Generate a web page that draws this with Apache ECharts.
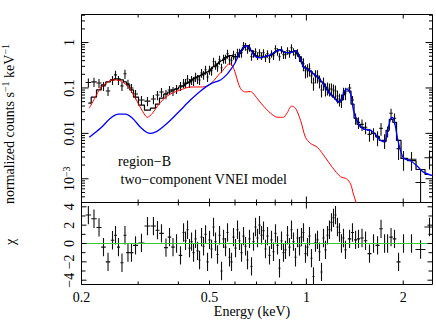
<!DOCTYPE html>
<html><head><meta charset="utf-8">
<script src="https://cdn.jsdelivr.net/npm/echarts@6/dist/echarts.min.js"></script>
<style>html,body{margin:0;padding:0;background:#fff}#c{width:436px;height:321px}</style>
</head><body><div id="c"></div>
<script>
// ---------- data ----------
const energy = [
0.2101,0.2187,0.2267,0.2341,0.2418,0.2497,0.2551,0.2606,0.2672,0.2730,0.2789,0.2860,0.2944,0.3072,0.3207,0.3347,0.3445,0.3545,0.3661,0.3755,0.3850,0.3948,0.4062,
0.4151,0.4211,0.4271,0.4333,0.4396,0.4459,0.4523,0.4589,0.4655,0.4722,
0.4790,0.4859,0.4929,0.5000,0.5072,0.5145,0.5219,0.5294,0.5371,0.5448,
0.5527,0.5606,0.5687,0.5769,0.5852,0.5936,0.6022,0.6109,0.6197,0.6286,
0.6377,0.6469,0.6562,0.6656,0.6752,0.6850,0.6948,0.7048,0.7150,0.7253,
0.7357,0.7463,0.7571,0.7680,0.7791,0.7903,0.8017,0.8133,0.8250,0.8369,
0.8489,0.8612,0.8736,0.8862,0.8989,0.9119,0.9250,0.9384,0.9519,0.9656,
0.9795,0.9936,1.0080,1.0225,1.0372,1.0522,1.0674,1.0827,1.0984,1.1142,
1.1303,1.1466,1.1631,1.1798,1.1968,1.2141,1.2316,1.2493,1.2673,1.2856,
1.3041,1.3229,
1.362,1.391,1.422,1.452,1.489,1.527,1.571,1.617,1.664,1.706,1.750,1.788,1.833,1.879,1.934,2.004,2.122,2.264,2.414];
const halfWidth = [
0.0041,0.0043,0.0041,0.0038,0.0039,0.0031,0.0027,0.0028,0.0029,0.0029,0.0035,0.0041,0.0053,0.0066,0.0069,0.0060,0.0049,0.0057,0.0052,0.0047,0.0048,0.0050,0.0051,
0.0030,0.0030,0.0031,0.0031,0.0031,0.0032,0.0032,0.0033,0.0033,0.0034,
0.0034,0.0035,0.0035,0.0036,0.0036,0.0037,0.0037,0.0038,0.0038,0.0039,
0.0040,0.0040,0.0041,0.0041,0.0042,0.0042,0.0043,0.0044,0.0044,0.0045,
0.0046,0.0046,0.0047,0.0048,0.0048,0.0049,0.0050,0.0050,0.0051,0.0052,
0.0053,0.0053,0.0054,0.0055,0.0056,0.0057,0.0057,0.0058,0.0059,0.0060,
0.0061,0.0062,0.0063,0.0063,0.0064,0.0065,0.0066,0.0067,0.0068,0.0069,
0.0070,0.0071,0.0072,0.0073,0.0074,0.0075,0.0076,0.0078,0.0079,0.0080,
0.0081,0.0082,0.0083,0.0084,0.0086,0.0087,0.0088,0.0089,0.0091,0.0092,
0.0093,0.0095,
0.017,0.0149,0.0153,0.0156,0.0187,0.0191,0.0225,0.0231,0.0238,0.0214,0.0219,0.0192,0.0230,0.0235,0.0277,0.0432,0.0763,0.0814,0.0868];
const rate = [
0.132,0.136,0.129,0.111,0.0858,0.150,0.194,0.150,0.111,0.205,0.123,0.100,0.0736,0.0541,0.0514,0.0570,0.0699,0.0815,0.0736,0.0903,0.0858,0.095,0.111,
0.129,0.129,0.158,0.129,0.150,0.143,0.175,0.158,0.150,0.215,
0.194,0.251,0.175,0.251,0.239,0.378,0.324,0.293,0.419,0.278,
0.441,0.441,0.570,0.419,0.398,0.541,0.464,0.599,0.599,0.599,
0.858,0.815,0.699,0.774,0.489,0.570,0.631,0.514,0.599,0.514,
0.599,0.464,0.570,0.441,0.570,0.514,0.736,0.631,0.489,0.699,
0.541,0.541,0.664,0.570,0.774,0.631,0.541,0.599,0.464,0.419,
0.341,0.239,0.251,0.264,0.185,0.129,0.185,0.185,0.143,0.0903,
0.129,0.095,0.100,0.095,0.095,0.0903,0.0858,0.0664,0.0570,0.0541,
0.0774,0.0774,
0.100,0.0541,0.0215,0.0175,0.0158,0.0136,0.0095,0.0100,0.0082,0.0129,0.0070,0.0111,0.0278,0.0215,0.0046,0.0028,0.0027,0.00083,0.0029];
const rateErr = [
0.030,0.031,0.029,0.025,0.019,0.034,0.044,0.034,0.025,0.047,0.028,0.023,0.017,0.012,0.012,0.013,0.016,0.018,0.017,0.020,0.019,0.021,0.025,
0.029,0.029,0.035,0.029,0.034,0.032,0.040,0.035,0.034,0.048,
0.043,0.056,0.040,0.056,0.053,0.085,0.072,0.066,0.094,0.062,
0.099,0.099,0.128,0.094,0.090,0.122,0.104,0.134,0.134,0.134,
0.165,0.157,0.134,0.149,0.094,0.109,0.122,0.099,0.115,0.099,
0.115,0.090,0.109,0.085,0.109,0.099,0.141,0.122,0.094,0.134,
0.104,0.104,0.128,0.109,0.149,0.122,0.104,0.115,0.090,0.080,
0.109,0.077,0.080,0.085,0.059,0.042,0.059,0.059,0.046,0.029,
0.042,0.030,0.032,0.030,0.030,0.029,0.027,0.021,0.018,0.018,
0.024,0.024,
0.023,0.012,0.006,0.005,0.0045,0.004,0.003,0.003,0.003,0.004,0.0025,0.003,0.007,0.006,0.002,0.0013,0.0012,0.0008,0.0013];
const model = [
0.0464,0.0631,0.0903,0.117,0.136,0.150,0.158,0.158,0.150,0.136,0.117,0.0903,0.0631,0.0419,0.0324,0.0359,0.0441,0.0599,0.0736,0.0815,0.0903,0.095,0.105,
0.111,0.123,0.129,0.136,0.150,0.158,0.167,0.175,0.185,0.194,
0.205,0.215,0.227,0.239,0.264,0.293,0.308,0.341,0.378,0.398,
0.419,0.464,0.489,0.514,0.514,0.489,0.489,0.489,0.570,0.664,
0.774,0.858,0.858,0.736,0.664,0.570,0.514,0.489,0.464,0.464,
0.489,0.489,0.514,0.514,0.541,0.570,0.631,0.664,0.699,0.664,
0.631,0.599,0.599,0.599,0.631,0.631,0.664,0.570,0.489,0.378,
0.293,0.278,0.264,0.239,0.227,0.205,0.185,0.175,0.158,0.136,
0.123,0.105,0.0903,0.0774,0.0699,0.0631,0.0570,0.0514,0.0489,0.0541,
0.0699,0.0858,
0.0858,0.0441,0.0215,0.0158,0.0136,0.0123,0.0117,0.0100,0.0086,0.0070,0.0066,0.0117,0.0204,0.0175,0.0070,0.0028,0.0025,0.0016,0.00124];
const chi = [
3.1,2.7,1.75,-0.4,-2.0,0.35,0.9,-0.4,-2.1,0.9,-1.0,-1.0,-0.2,0.06,1.9,1.9,1.45,1.1,-0.45,0.7,-0.4,0.0,-1.3,
1.2,0.3,1.5,-0.5,0.2,-1.0,0.5,-0.8,-1.8,0.7,
-0.3,1.0,-2.0,0.4,-0.6,1.8,0.2,-1.2,0.9,-3.0,
0.5,-0.4,1.2,-1.5,-2.0,0.7,-0.5,1.5,0.3,-1.0,
0.8,-0.3,-1.8,0.5,-2.5,0.2,1.8,0.6,2.0,0.9,
1.4,-0.6,0.8,-1.3,0.4,-0.9,1.1,-0.2,-2.7,0.3,
-1.0,-0.7,0.9,-0.4,1.5,0.2,-1.5,0.6,-0.3,0.7,
1.2,-1.1,-0.4,0.8,-1.6,-3.6,0.1,0.4,-0.9,-3.1,
0.6,-0.7,0.9,1.5,2.3,2.8,3.1,1.8,1.2,0.0,
0.6,-0.7,
0.5,1.2,0.4,0.5,0.6,0.3,-1.1,0.0,-0.2,1.6,0.0,0.0,0.7,0.5,-2.0,0.0,0.0,-0.65,1.8];

// soft (red) component
const redE = [0.2115,0.221,0.229,0.2393,0.2497,0.2588,0.268,0.278,0.288,0.2986,0.3095,0.3207,0.3324,0.3445,0.3597,0.378,0.406,0.436,0.469,0.493,0.5145,0.5332,0.5488,0.5646,0.5769,0.5894,0.6022,0.6153,0.6286,0.6469,0.670,0.690,0.7099,0.7357,0.774,0.8133,0.8489,0.8736,0.8989,0.925,0.959,0.9936,1.030,1.0827,1.1466,1.2058,1.277,1.332,1.372,1.40,1.43,1.46];
const redVal = [0.0359,0.0631,0.100,0.129,0.150,0.150,0.136,0.111,0.0774,0.0489,0.0307,0.0226,0.0278,0.0398,0.0570,0.0736,0.0903,0.105,0.105,0.111,0.143,0.194,0.239,0.308,0.341,0.308,0.205,0.123,0.0903,0.0815,0.0836,0.0699,0.0541,0.0398,0.0278,0.0226,0.0226,0.0292,0.0398,0.0359,0.0194,0.0082,0.0060,0.0049,0.0029,0.00176,0.00111,0.00100,0.00077,0.00046,0.00029,0.00018];
// hard (blue) component
const blueE = [0.2115,0.229,0.246,0.2606,0.274,0.288,0.305,0.3185,0.328,0.343,0.3572,0.378,0.406,0.436,0.469,0.504,0.541,0.5646,0.581,0.598,0.6153,0.6332,0.6518,0.670,0.690,0.710,0.7414,0.774,0.802,0.831,0.861,0.893,0.925,0.952,0.9795,1.016,1.0522,1.09,1.1303,1.172,1.2141,1.262,1.2856,1.31,1.337,1.372,1.40,1.43,1.46,1.51,1.583,1.64,1.70,1.75,1.79,1.826,1.85,1.88,1.92,1.962,2.01,2.108,2.21,2.31,2.47];
const blueVal = [0.0082,0.0129,0.0215,0.0264,0.0264,0.0215,0.0136,0.0106,0.0100,0.0111,0.0136,0.0194,0.0324,0.0541,0.0858,0.123,0.150,0.194,0.251,0.341,0.514,0.736,0.858,0.699,0.514,0.464,0.489,0.541,0.631,0.699,0.599,0.599,0.664,0.489,0.293,0.251,0.205,0.167,0.123,0.0815,0.0631,0.0489,0.0541,0.0815,0.095,0.0736,0.0324,0.0204,0.0151,0.0123,0.0117,0.0095,0.0070,0.0066,0.0117,0.0204,0.0226,0.0175,0.0077,0.0042,0.0028,0.0025,0.0019,0.0014,0.00117];

// axis ticks / labels
const xLabelTicks = [0.2, 0.5, 1, 2];
const xLabelText = ['0.2', '0.5', '1', '2'];
const xMinorTicks = [0.3, 0.4, 0.6, 0.7, 0.8, 0.9];
const yTopLabelTicks = [0.001, 0.01, 0.1, 1];
const yTopLabelText = ['10{sup|\u22123}', '0.01', '0.1', '1'];
const yBotTicks = [-4, -3, -2, -1, 0, 1, 2, 3, 4];
const yBotLabelTicks = [-4, -2, 0, 2, 4];
const yBotLabelText = ['\u22124', '\u22122', '0', '2', '4'];

const X_MIN = 0.2, X_MAX = 2.466;
const Y_MIN = 3e-4, Y_MAX = 4.15;
const C_MIN = -4.47, C_MAX = 4.47;

const FAM = '"Liberation Serif","Times New Roman",serif';
const F14 = '14px ' + FAM;
const F10 = '10px ' + FAM;
const richSup = { sup: { font: F10, fontSize: 10, fontFamily: FAM, verticalAlign: 'top', lineHeight: 10, fill: '#000' } };

function crossRender(isLog, fixedErr) {
  return function (params, api) {
    const cs = params.coordSys;
    const T = cs.y, B = cs.y + cs.height, L = cs.x, R = cs.x + cs.width;
    const cx = v => Math.min(Math.max(v, L), R);
    const cy = v => Math.min(Math.max(v, T), B);
    const e = api.value(0), v = api.value(1), dx = api.value(2);
    const dy = fixedErr != null ? fixedErr : api.value(3);
    const c = api.coord([e, v]);
    const xl = cx(api.coord([e - dx, v])[0]);
    const xr = cx(api.coord([e + dx, v])[0]);
    const lo = v - dy;
    const yb = (isLog && lo <= 0) ? B : cy(api.coord([e, lo])[1]);
    const yt = cy(api.coord([e, v + dy])[1]);
    const st = { stroke: '#111', lineWidth: 1.1 };
    const ch = [];
    if (c[1] >= T && c[1] <= B) ch.push({ type: 'line', shape: { x1: xl, y1: c[1], x2: xr, y2: c[1] }, style: st });
    ch.push({ type: 'line', shape: { x1: c[0], y1: yt, x2: c[0], y2: yb }, style: st });
    return { type: 'group', children: ch };
  };
}

function line(els, x1, y1, x2, y2) {
  els.push({ type: 'line', shape: { x1, y1, x2, y2 }, style: { stroke: '#000', lineWidth: 1 } });
}

function topDecor(params, api) {
  const cs = params.coordSys;
  const L = cs.x, R = cs.x + cs.width, T = cs.y, B = cs.y + cs.height;
  const els = [];
  xLabelTicks.forEach(e => {
    const x = api.coord([e, 1])[0]; const len = e === 1 ? 6 : 4;
    line(els, x, B, x, B - len); line(els, x, T, x, T + len);
  });
  xMinorTicks.forEach(e => {
    const x = api.coord([e, 1])[0];
    line(els, x, B, x, B - 3); line(els, x, T, x, T + 3);
  });
  for (let d = -4; d <= 0; d++) {
    for (let m = 1; m <= 9; m++) {
      const y = api.coord([1, m * Math.pow(10, d)])[1];
      if (y < T - 0.1 || y > B + 0.1) continue;
      const len = m === 1 ? 7 : 3.5;
      line(els, L, y, L + len, y); line(els, R, y, R - len, y);
    }
  }
  yTopLabelTicks.forEach((v, i) => {
    const y = api.coord([1, v])[1];
    els.push({ type: 'text', x: L - 12, y: y, rotation: Math.PI / 2,
      style: { text: yTopLabelText[i], font: F14, fill: '#000', align: 'center', verticalAlign: 'middle', lineHeight: 16, rich: richSup } });
  });
  return { type: 'group', children: els };
}

function botDecor(params, api) {
  const cs = params.coordSys;
  const L = cs.x, R = cs.x + cs.width, T = cs.y, B = cs.y + cs.height;
  const els = [];
  xLabelTicks.forEach((e, i) => {
    const x = api.coord([e, 0])[0]; const len = e === 1 ? 6 : 4;
    line(els, x, B, x, B - len); line(els, x, T, x, T + len);
    els.push({ type: 'text', x: x, y: B + 12.5,
      style: { text: xLabelText[i], font: F14, fill: '#000', align: 'center', verticalAlign: 'middle' } });
  });
  xMinorTicks.forEach(e => {
    const x = api.coord([e, 0])[0];
    line(els, x, B, x, B - 3); line(els, x, T, x, T + 3);
  });
  yBotTicks.forEach(v => {
    const y = api.coord([1, v])[1]; const len = v % 2 === 0 ? 5 : 4;
    line(els, L, y, L + len, y); line(els, R, y, R - len, y);
  });
  yBotLabelTicks.forEach((v, i) => {
    const y = api.coord([1, v])[1];
    els.push({ type: 'text', x: L - 12, y: y, rotation: Math.PI / 2,
      style: { text: yBotLabelText[i], font: F14, fill: '#000', align: 'center', verticalAlign: 'middle' } });
  });
  return { type: 'group', children: els };
}

const hidden = { show: false };
const chart = echarts.init(document.getElementById('c'), null, { renderer: 'svg', width: 436, height: 321 });
chart.setOption({
  animation: false,
  backgroundColor: '#fff',
  grid: [
    { left: 81.5, top: 14.5, width: 351, height: 188, show: true, borderColor: '#000', borderWidth: 1, backgroundColor: 'transparent' },
    { left: 81.5, top: 202.5, width: 351, height: 82, show: true, borderColor: '#000', borderWidth: 1, backgroundColor: 'transparent' }
  ],
  xAxis: [
    { type: 'log', gridIndex: 0, min: X_MIN, max: X_MAX, axisLine: hidden, axisTick: hidden, axisLabel: hidden, splitLine: hidden },
    { type: 'log', gridIndex: 1, min: X_MIN, max: X_MAX, axisLine: hidden, axisTick: hidden, axisLabel: hidden, splitLine: hidden }
  ],
  yAxis: [
    { type: 'log', gridIndex: 0, min: Y_MIN, max: Y_MAX, axisLine: hidden, axisTick: hidden, axisLabel: hidden, splitLine: hidden },
    { type: 'value', gridIndex: 1, min: C_MIN, max: C_MAX, axisLine: hidden, axisTick: hidden, axisLabel: hidden, splitLine: hidden }
  ],
  graphic: [
    { type: 'text', x: 9, y: 124, rotation: Math.PI / 2,
      style: { text: 'normalized counts s{sup|\u22121} keV{sup|\u22121}', font: F14, fill: '#000', align: 'center', verticalAlign: 'middle', lineHeight: 18, rich: richSup } },
    { type: 'text', x: 10, y: 242, rotation: Math.PI / 2,
      style: { text: '\u03C7', font: F14, fill: '#000', align: 'center', verticalAlign: 'middle' } },
    { type: 'text', x: 252, y: 311,
      style: { text: 'Energy (keV)', font: F14, fill: '#000', align: 'center', verticalAlign: 'middle' } },
    { type: 'text', x: 118, y: 161,
      style: { text: 'region\u2212B', font: F14, fill: '#000', align: 'left', verticalAlign: 'middle' } },
    { type: 'text', x: 120.5, y: 179.5,
      style: { text: 'two\u2212component VNEI model', font: F14, fill: '#000', align: 'left', verticalAlign: 'middle' } }
  ],
  series: [
    { type: 'custom', name: 'data', xAxisIndex: 0, yAxisIndex: 0, z: 2, clip: true,
      renderItem: crossRender(true, null),
      data: energy.map((e, i) => [e, rate[i], halfWidth[i], rateErr[i]]) },
    { type: 'line', name: 'model', xAxisIndex: 0, yAxisIndex: 0, z: 3, step: 'middle', symbol: 'none',
      lineStyle: { color: '#000', width: 1.2 }, data: energy.map((e, i) => [e, model[i]]) },
    { type: 'line', name: 'soft', xAxisIndex: 0, yAxisIndex: 0, z: 4, smooth: 0.3, symbol: 'none',
      lineStyle: { color: '#ff0000', width: 1 }, data: redE.map((e, i) => [e, redVal[i]]) },
    { type: 'line', name: 'hard', xAxisIndex: 0, yAxisIndex: 0, z: 5, smooth: 0.3, symbol: 'none',
      lineStyle: { color: '#0000ff', width: 1.3 }, data: blueE.map((e, i) => [e, blueVal[i]]) },
    { type: 'custom', name: 'topAxes', xAxisIndex: 0, yAxisIndex: 0, z: 6, clip: false,
      renderItem: topDecor, data: [[1, 0.1]] },
    { type: 'custom', name: 'resid', xAxisIndex: 1, yAxisIndex: 1, z: 2, clip: true,
      renderItem: crossRender(false, 1),
      data: energy.map((e, i) => [e, chi[i], halfWidth[i]]) },
    { type: 'line', name: 'zero', xAxisIndex: 1, yAxisIndex: 1, z: 4, symbol: 'none',
      lineStyle: { color: '#33cc33', width: 1 }, data: [[X_MIN, 0], [X_MAX, 0]] },
    { type: 'custom', name: 'botAxes', xAxisIndex: 1, yAxisIndex: 1, z: 6, clip: false,
      renderItem: botDecor, data: [[1, 0]] }
  ]
});
</script>
</body></html>
